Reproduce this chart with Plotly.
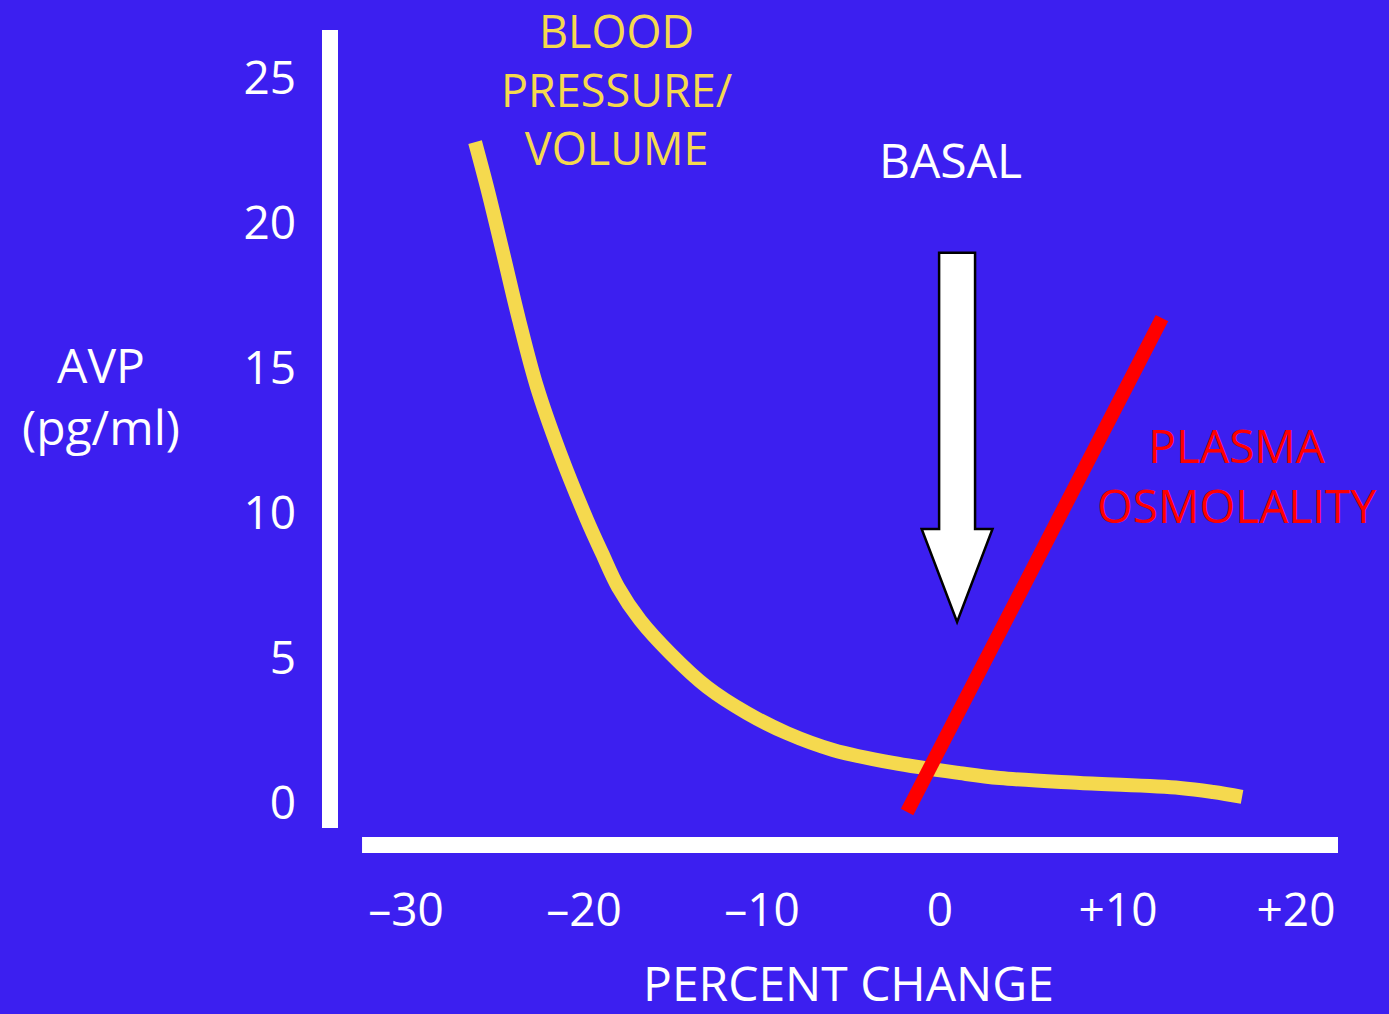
import plotly.graph_objects as go

# ---------------- data ----------------
bp_x = [-26.12, -25.45, -24.55, -23.65, -22.64, -21.35, -19.83, -18.99, -18.09, -16.85,
        -15.17, -13.09, -10.84, -8.60, -6.01, -2.64, 1.12, 3.37, 7.87, 13.48, 15.34, 16.97]
bp_y = [22.79, 21.24, 18.97, 16.66, 14.34, 12.07, 9.76, 8.62, 7.45, 6.31,
        5.17, 4.00, 3.10, 2.41, 1.83, 1.38, 1.03, 0.86, 0.69, 0.52, 0.38, 0.21]

osm_x = [-1.85, 12.47]
osm_y = [-0.31, 16.72]

x_tickvals = [-30, -20, -10, 0, 10, 20]
x_ticktext = ["\u201330", "\u201320", "\u201310", "0", "+10", "+20"]
y_tickvals = [0, 5, 10, 15, 20, 25]
y_ticktext = ["0", "5", "10", "15", "20", "25"]

basal_x = 0.96
basal_arrow_top = 18.97
basal_arrow_tip = 6.24

# ---------------- style ----------------
BG = "#3c1ff0"
YELLOW = "#f5d94e"
RED = "#ff0000"
WHITE = "#ffffff"
FONT = "Open Sans"

X_RANGE = [-34.27, 22.36]
Y_RANGE = [-1.448, 26.655]

fig = go.Figure()

fig.add_trace(go.Scatter(
    x=bp_x, y=bp_y, mode="lines",
    line=dict(color=YELLOW, width=14, shape="spline", smoothing=1.0),
    hoverinfo="skip", showlegend=False,
))
fig.add_trace(go.Scatter(
    x=osm_x, y=osm_y, mode="lines",
    line=dict(color=RED, width=14),
    hoverinfo="skip", showlegend=False,
))

# arrow geometry (in data units)
hs = 1.01   # shaft half width
hh = 1.99   # head half width
head_base = 9.45
arrow_path = (
    f"M {basal_x - hs},{basal_arrow_top} L {basal_x + hs},{basal_arrow_top} "
    f"L {basal_x + hs},{head_base} L {basal_x + hh},{head_base} "
    f"L {basal_x},{basal_arrow_tip} L {basal_x - hh},{head_base} "
    f"L {basal_x - hs},{head_base} Z"
)

shapes = [
    dict(type="rect", xref="paper", yref="y", xsizemode="pixel", xanchor=0,
         x0=-8, x1=8, y0=-0.86, y1=Y_RANGE[1], fillcolor=WHITE, line=dict(width=0), layer="below"),
    dict(type="rect", xref="x", yref="paper", ysizemode="pixel", yanchor=0,
         y0=-8, y1=8, x0=-32.47, x1=X_RANGE[1], fillcolor=WHITE, line=dict(width=0), layer="below"),
    dict(type="path", xref="x", yref="y", path=arrow_path,
         fillcolor=WHITE, line=dict(color="#000000", width=2.5), layer="above"),
]

# text placement helpers (paper coordinates from page pixels)
PLOT_L, PLOT_T, PLOT_W, PLOT_H = 330, 30, 1008, 815

def txt(px, py, s, color, size=48):
    return dict(x=(px - PLOT_L) / PLOT_W, y=(PLOT_T + PLOT_H - py) / PLOT_H,
                xref="paper", yref="paper", text=s, showarrow=False,
                xanchor="center", yanchor="middle",
                font=dict(family=FONT, size=size, color=color))

annotations = [
    txt(617, 89, "BLOOD<br>PRESSURE/<br>VOLUME", YELLOW, 45),
    txt(950, 160, "BASAL", WHITE, 48),
    txt(1236, 475, "PLASMA<br>OSMOLALITY", RED, 46),
    txt(101, 396, "AVP<br>(pg/ml)", WHITE, 48),
    txt(848, 983, "PERCENT CHANGE", WHITE, 48),
]

fig.update_layout(
    width=1389, height=1014, autosize=False,
    margin=dict(l=PLOT_L, r=1389 - PLOT_L - PLOT_W, t=PLOT_T, b=1014 - PLOT_T - PLOT_H, pad=0),
    paper_bgcolor=BG, plot_bgcolor=BG,
    font=dict(family=FONT, color=WHITE),
    shapes=shapes, annotations=annotations,
    showlegend=False,
    xaxis=dict(range=X_RANGE, showgrid=False, zeroline=False, showline=False,
               tickmode="array", tickvals=x_tickvals, ticktext=x_ticktext,
               ticks="", ticklabelstandoff=34,
               tickfont=dict(family=FONT, size=46, color=WHITE),
               fixedrange=True),
    yaxis=dict(range=Y_RANGE, showgrid=False, zeroline=False, showline=False,
               tickmode="array", tickvals=y_tickvals, ticktext=y_ticktext,
               ticks="", ticklabelstandoff=33,
               tickfont=dict(family=FONT, size=46, color=WHITE),
               fixedrange=True),
)

fig.write_html("out.html")
